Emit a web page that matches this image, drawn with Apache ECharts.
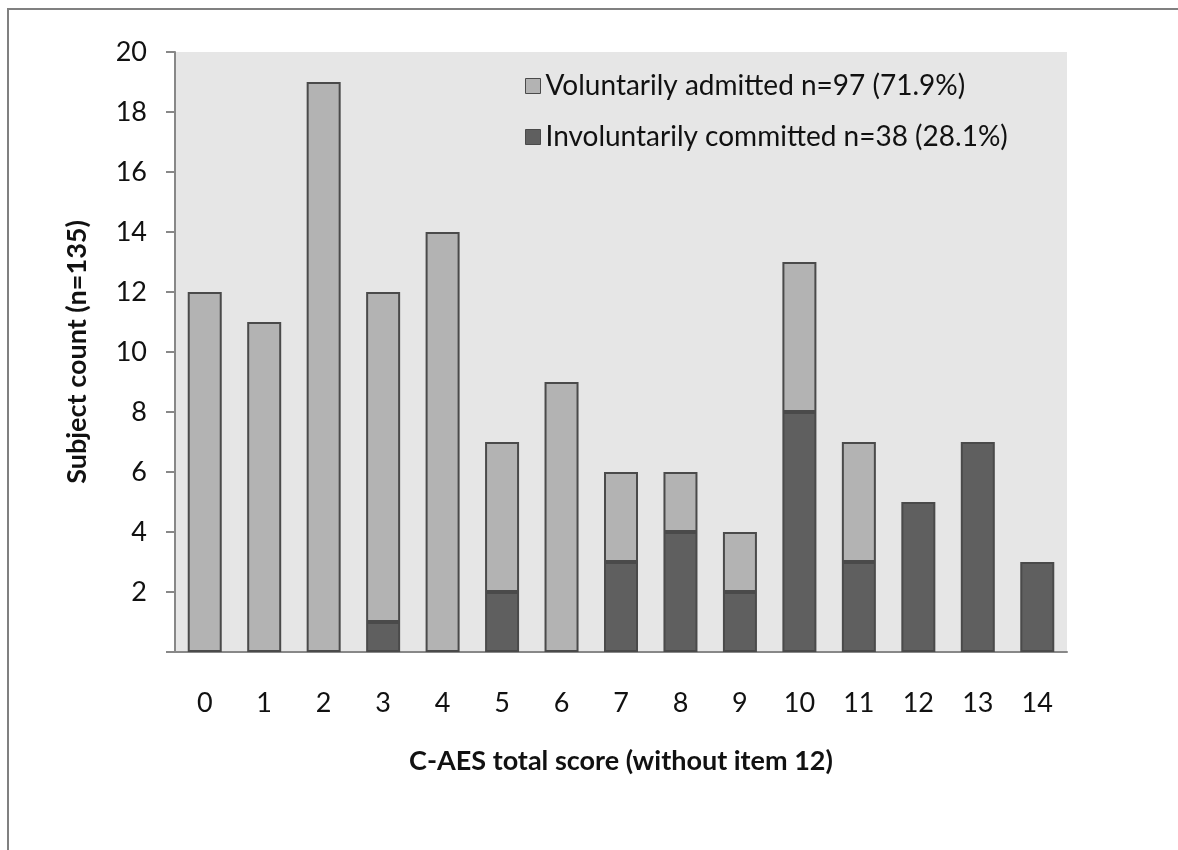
<!DOCTYPE html>
<html>
<head>
<meta charset="utf-8">
<script src="https://cdn.jsdelivr.net/npm/echarts@6/dist/echarts.min.js"></script>
<style>
html, body { margin: 0; padding: 0; background: #fff; }
#chart { width: 1178px; height: 850px; }
</style>
</head>
<body>
<div id="chart"></div>
<script>
const scores = ['0','1','2','3','4','5','6','7','8','9','10','11','12','13','14'];
// '-' = no bar drawn for that score
const involuntary = ['-', '-', '-', 1, '-', 2, '-', 3, 4, 2, 8, 3, 5, 7, 3];
const voluntary = [12, 11, 19, 11, 14, 5, 9, 3, 2, 2, 5, 4, '-', '-', '-'];
const nameVol = 'Voluntarily admitted n=97 (71.9%)';
const nameInvol = 'Involuntarily committed n=38 (28.1%)';

const font = 'Lato, "Open Sans", sans-serif';

var dom = document.getElementById('chart');
var myChart = echarts.init(dom, null, { renderer: 'canvas' });

var option = {
  animation: false,
  textStyle: { fontFamily: font },
  graphic: [
    {
      type: 'rect',
      shape: { x: 8, y: 9, width: 1300, height: 1000 },
      style: { fill: 'none', stroke: '#808080', lineWidth: 2 }
    }
  ],
  grid: {
    left: 175, right: 111, top: 52, bottom: 198,
    show: true, backgroundColor: '#e6e6e6', borderWidth: 0
  },
  legend: {
    orient: 'vertical',
    left: 520, top: 67,
    itemWidth: 15, itemHeight: 15,
    itemGap: 23,
    icon: 'rect',
    data: [nameVol, nameInvol],
    itemStyle: { borderWidth: 1 },
    textStyle: { fontSize: 28, color: '#111', fontFamily: font }
  },
  xAxis: {
    type: 'category',
    data: scores,
    name: 'C-AES total score (without item 12)',
    nameLocation: 'middle',
    nameGap: 96,
    nameTextStyle: { fontSize: 27, fontWeight: 'bold', color: '#111' },
    axisLine: { lineStyle: { color: '#888', width: 2 } },
    axisTick: { show: false },
    axisLabel: { fontSize: 27, color: '#111', margin: 38 }
  },
  yAxis: {
    type: 'value',
    min: 0, max: 20, interval: 2,
    name: 'Subject count (n=135)',
    nameLocation: 'middle',
    nameGap: 84,
    nameTextStyle: { fontSize: 27, fontWeight: 'bold', color: '#111' },
    axisLine: { show: true, lineStyle: { color: '#888', width: 2 } },
    axisTick: { show: true, length: 9, lineStyle: { color: '#888', width: 2 } },
    axisLabel: {
      fontSize: 27, color: '#111', margin: 28,
      formatter: function (v) { return v === 0 ? '' : v; }
    },
    splitLine: { show: false }
  },
  series: [
    {
      name: nameInvol,
      type: 'bar',
      stack: 'total',
      data: involuntary,
      barWidth: 34,
      itemStyle: { color: '#5f5f5f', borderColor: '#4a4a4a', borderWidth: 2 }
    },
    {
      name: nameVol,
      type: 'bar',
      stack: 'total',
      data: voluntary,
      barWidth: 34,
      itemStyle: { color: '#b3b3b3', borderColor: '#4a4a4a', borderWidth: 2 }
    }
  ]
};

myChart.setOption(option);
window.addEventListener('resize', myChart.resize);
</script>
</body>
</html>
